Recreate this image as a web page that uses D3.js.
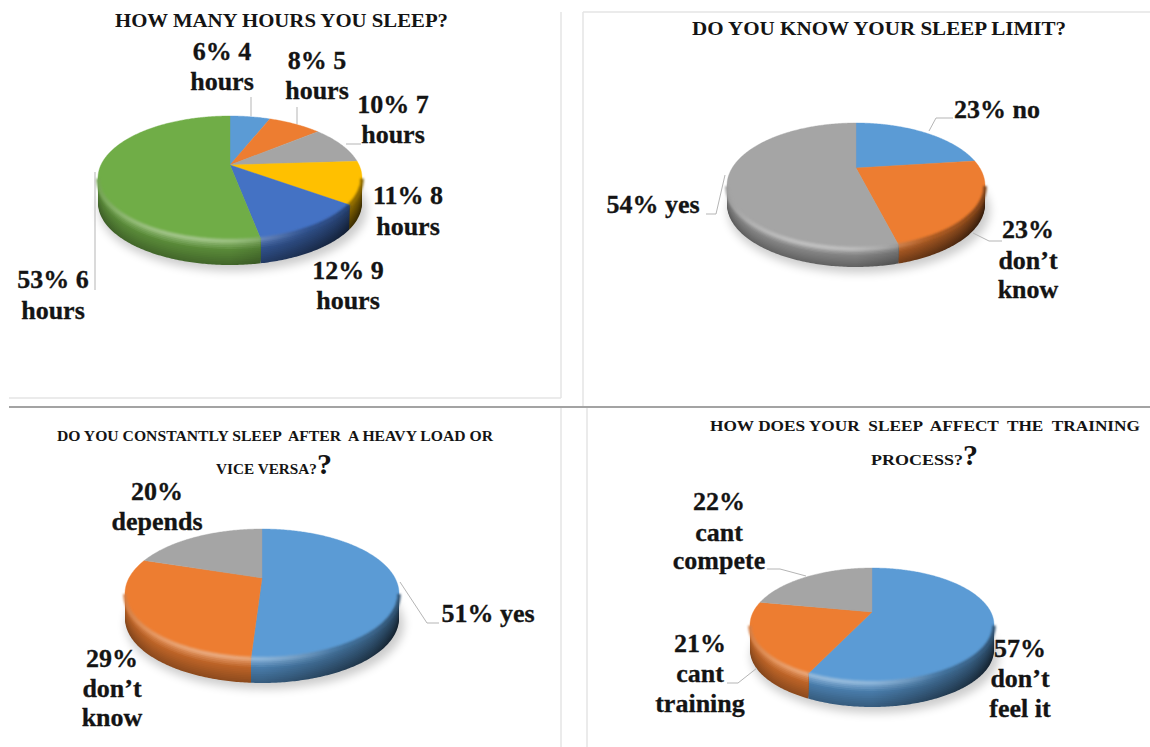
<!DOCTYPE html>
<html>
<head>
<meta charset="utf-8">
<script src="https://cdn.jsdelivr.net/npm/d3@7"></script>
<style>
  html, body { margin: 0; background: #fff; }
  svg { display: block; }
  text { font-family: "Liberation Serif", serif; font-weight: bold; fill: #141414; white-space: pre; }
  text.label { stroke: #141414; stroke-width: 0.3; }
</style>
</head>
<body>
<svg id="chart" width="1150" height="747"></svg>
<script>
// Survey answers, clockwise from twelve o'clock
const hoursCategories = ["4 hours", "5 hours", "7 hours", "8 hours", "9 hours", "6 hours"];
const hoursValues = [6, 8, 10, 11, 12, 53];
const limitCategories = ["no", "don’t know", "yes"];
const limitValues = [23, 23, 54];
const loadCategories = ["yes", "don’t know", "depends"];
const loadValues = [51, 29, 20];
const trainingCategories = ["don’t feel it", "cant training", "cant compete"];
const trainingValues = [57, 21, 22];

const BLUE = "#5b9bd5", ORANGE = "#ed7d31", GREY = "#a5a5a5",
      YELLOW = "#ffc000", NAVY = "#4472c4", GREEN = "#70ad47";

// Placement of each tilted disc: horizontal centre and half width, the top and
// bottom of its upper face, the height of the pie's apex, and the rim depth.
const panels = [
  { values: hoursValues, categories: hoursCategories,
    colors: [BLUE, ORANGE, GREY, YELLOW, NAVY, GREEN],
    cx: 230, rx: 132, top: 116, apex: 165, bottom: 240, depth: 25,
    labels: [
      { x: 222, ys: [60, 90], lines: ["6% 4", "hours"] },
      { x: 317, ys: [69, 99], lines: ["8% 5", "hours"] },
      { x: 393, ys: [113, 143], lines: ["10% 7", "hours"] },
      { x: 408, ys: [204, 235], lines: ["11% 8", "hours"] },
      { x: 348, ys: [279, 309], lines: ["12% 9", "hours"] },
      { x: 53, ys: [288, 319], lines: ["53% 6", "hours"] }
    ],
    leaders: [
      [[251, 97], [251, 116]],
      [[297, 107], [297, 124]],
      [[361, 144], [346, 144]],
      [[95, 172], [95, 290]]
    ]
  },
  { values: limitValues, categories: limitCategories,
    colors: [BLUE, ORANGE, GREY],
    cx: 856, rx: 129, top: 123, apex: 168, bottom: 248, depth: 19,
    labels: [
      { x: 997, ys: [118], lines: ["23% no"] },
      { x: 653, ys: [213], lines: ["54% yes"] },
      { x: 1028, ys: [238, 269, 298], lines: ["23%", "don’t", "know"] }
    ],
    leaders: [
      [[953, 118], [936, 118], [929, 131]],
      [[706, 214], [716, 214], [725, 175]],
      [[1002, 241], [989, 241], [973, 233]]
    ]
  },
  { values: loadValues, categories: loadCategories,
    colors: [BLUE, ORANGE, GREY],
    cx: 262, rx: 137, top: 529, apex: 578, bottom: 658, depth: 25,
    labels: [
      { x: 157, ys: [500, 530], lines: ["20%", "depends"] },
      { x: 112, ys: [667, 697, 726], lines: ["29%", "don’t", "know"] },
      { x: 488, ys: [622], lines: ["51% yes"] }
    ],
    leaders: [
      [[439, 623], [427, 623], [400, 582]]
    ]
  },
  { values: trainingValues, categories: trainingCategories,
    colors: [BLUE, ORANGE, GREY],
    cx: 872, rx: 122, top: 568, apex: 612, bottom: 682, depth: 25,
    labels: [
      { x: 719, ys: [510, 541, 569], lines: ["22%", "cant", "compete"] },
      { x: 700, ys: [652, 682, 712], lines: ["21%", "cant", "training"] },
      { x: 1020, ys: [657, 687, 717], lines: ["57%", "don’t", "feel it"] }
    ],
    leaders: [
      [[767, 569], [780, 569], [806, 576]],
      [[727, 683], [738, 683], [757, 668]],
      [[995, 640], [995, 652]]
    ]
  }
];

// Headings, fitted to a set width
const titles = [
  { text: "HOW MANY HOURS YOU SLEEP?", x: 115, y: 27, width: 333, size: 18.5 },
  { text: "DO YOU KNOW YOUR SLEEP LIMIT?", x: 692, y: 35, width: 374, size: 18.5 },
  { text: "DO YOU CONSTANTLY SLEEP  AFTER  A HEAVY LOAD OR", x: 57, y: 441, width: 436, size: 15.5 },
  { text: "VICE VERSA?", x: 216, y: 474, width: 101, size: 15.5 },
  { text: "?", x: 317, y: 474, size: 30 },
  { text: "HOW DOES YOUR  SLEEP  AFFECT  THE  TRAINING", x: 710, y: 431, width: 430, size: 15.5 },
  { text: "PROCESS?", x: 871, y: 465, width: 92, size: 15.5 },
  { text: "?", x: 963, y: 465, size: 30 }
];

// Frame lines between the four panels
const frameLines = [
  { x1: 9, y1: 398, x2: 561, y2: 398, color: "#e4e4e4", width: 1.5 },
  { x1: 561, y1: 12, x2: 561, y2: 398, color: "#e4e4e4", width: 1.5 },
  { x1: 583, y1: 12, x2: 1150, y2: 12, color: "#e4e4e4", width: 1.5 },
  { x1: 583, y1: 12, x2: 583, y2: 407, color: "#e4e4e4", width: 1.5 },
  { x1: 561, y1: 407, x2: 561, y2: 747, color: "#e4e4e4", width: 1.5 },
  { x1: 587, y1: 407, x2: 587, y2: 747, color: "#e4e4e4", width: 1.5 },
  { x1: 9, y1: 407, x2: 1150, y2: 407, color: "#a3a3a3", width: 2 }
];

const svg = d3.select("#chart");
const defs = svg.append("defs");
const addBlur = (id, amount) => defs.append("filter").attr("id", id)
  .attr("filterUnits", "userSpaceOnUse")
  .attr("x", 0).attr("y", 0).attr("width", 1150).attr("height", 747)
  .append("feGaussianBlur").attr("stdDeviation", amount);
addBlur("soft", 5);
addBlur("bevel", 1.3);

svg.append("g").selectAll("line").data(frameLines).join("line")
  .attr("x1", d => d.x1).attr("y1", d => d.y1)
  .attr("x2", d => d.x2).attr("y2", d => d.y2)
  .attr("stroke", d => d.color).attr("stroke-width", d => d.width);

const pieLayout = d3.pie().sort(null).value(d => d.value);
const tracePath = d3.line();
const shadeStops = d3.range(-1, 1.001, 0.1);
const rimLayers = d3.range(1, -0.001, -1 / 14);

// Rim colour at horizontal position s (-1 left .. 1 right) and depth f (0 top .. 1 bottom)
function rimColor(base, s, f) {
  const glow = Math.max(0, 1 - Math.pow((s + 0.3) / 0.85, 2)) * Math.max(0, 1 - f / 0.42);
  const edge = Math.max(0, (Math.abs(s) - 0.78) / 0.22);
  const shadow = 0.06 + 0.34 * f + 0.34 * Math.max(0, s) + 0.06 * edge;
  const dark = d3.interpolateRgb(base, "#000")(Math.min(0.78, shadow));
  return d3.interpolateRgb(dark, "#fff")(0.38 * glow);
}

panels.forEach((panel, panelIndex) => {
  const { cx, rx, top, apex, bottom, depth } = panel;
  const up = apex - top, down = bottom - apex;
  const k = (down - up) / (down + up);
  const span = 2 * up * down / (up + down);
  const halfChord = rx * Math.sqrt(1 - k * k);

  // Viewed at an angle: the disc's far half is foreshortened around the apex
  const project = (angle, drop = 0) => {
    const u = Math.sin(angle), v = -Math.cos(angle);
    const w = 1 - k * v;
    return [cx + u * halfChord / w, apex + v * span / w + drop];
  };
  const samples = (a0, a1) => {
    const n = Math.max(2, Math.ceil((a1 - a0) / 0.012));
    return d3.range(n + 1).map(i => a0 + (a1 - a0) * i / n);
  };

  const arcs = pieLayout(panel.values.map((value, i) =>
    ({ value, category: panel.categories[i], color: panel.colors[i] })));
  const group = svg.append("g");

  // Soft ground shadow under the disc
  group.append("ellipse")
    .attr("cx", cx + 3).attr("cy", (top + bottom) / 2 + depth + 6)
    .attr("rx", rx + 2).attr("ry", (bottom - top) / 2)
    .attr("fill", "#000").attr("opacity", 0.2)
    .attr("filter", "url(#soft)");

  // Front rim, built from overlapping bands so the shading falls off downward
  const frontStart = Math.acos(-k), frontEnd = 2 * Math.PI - frontStart;
  const visibleRim = arcs.map((slice, sliceIndex) => ({
    slice, sliceIndex,
    a0: Math.max(slice.startAngle, frontStart),
    a1: Math.min(slice.endAngle, frontEnd)
  })).filter(d => d.a1 > d.a0);

  const gradientFor = (slice, sliceIndex, f, layerIndex) => {
    const id = `rim-${panelIndex}-${sliceIndex}-${layerIndex}`;
    defs.append("linearGradient").attr("id", id)
      .attr("gradientUnits", "userSpaceOnUse")
      .attr("x1", cx - rx).attr("x2", cx + rx).attr("y1", 0).attr("y2", 0)
      .selectAll("stop").data(shadeStops).join("stop")
      .attr("offset", s => (s + 1) / 2)
      .attr("stop-color", s => rimColor(slice.data.color, s, f));
    return `url(#${id})`;
  };

  visibleRim.forEach(({ slice, sliceIndex, a0, a1 }) => {
    const edge = samples(a0, a1);
    rimLayers.forEach((f, layerIndex) => {
      const upper = edge.map(a => project(a));
      const lower = edge.slice().reverse().map(a => project(a, depth * f));
      group.append("path")
        .attr("d", tracePath(upper.concat(lower)) + "Z")
        .attr("fill", gradientFor(slice, sliceIndex, f, layerIndex));
    });
  });

  // Upper face of every slice
  group.selectAll("path.face").data(arcs).join("path")
    .attr("class", "face")
    .attr("fill", d => d.data.color)
    .attr("stroke", d => d.data.color).attr("stroke-width", 0.4)
    .attr("d", d => {
      const pts = samples(d.startAngle, d.endAngle).map(a => project(a));
      return tracePath([[cx, apex], ...pts]) + "Z";
    })
    .append("title").text(d => `${d.data.category}: ${d.data.value}%`);

  // Rounded shoulder where the upper face turns into the rim
  visibleRim.forEach(({ slice, sliceIndex, a0, a1 }) => {
    group.append("path")
      .attr("d", tracePath(samples(a0, a1).map(a => project(a, 0.5))))
      .attr("fill", "none")
      .attr("stroke", gradientFor(slice, sliceIndex, 0.02, "edge"))
      .attr("stroke-width", 3.5)
      .attr("filter", "url(#bevel)");
  });

  // Leader lines
  group.selectAll("path.leader").data(panel.leaders).join("path")
    .attr("class", "leader")
    .attr("d", d => tracePath(d))
    .attr("fill", "none").attr("stroke", "#b5b5b5").attr("stroke-width", 1);

  // Data labels
  group.selectAll("text.label")
    .data(panel.labels.flatMap(l => l.lines.map((line, i) => ({ line, x: l.x, y: l.ys[i] }))))
    .join("text")
    .attr("class", "label")
    .attr("x", d => d.x).attr("y", d => d.y)
    .attr("text-anchor", "middle")
    .attr("font-size", 26)
    .text(d => d.line);
});

svg.append("g").selectAll("text").data(titles).join("text")
  .attr("x", d => d.x).attr("y", d => d.y)
  .attr("font-size", d => d.size)
  .attr("textLength", d => d.width || null)
  .attr("lengthAdjust", "spacingAndGlyphs")
  .text(d => d.text);
</script>
</body>
</html>
